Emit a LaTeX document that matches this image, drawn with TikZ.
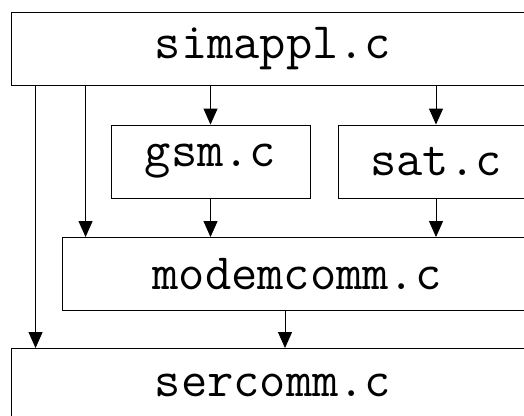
\documentclass[tikz,border=0pt]{standalone}
\usetikzlibrary{arrows.meta}
\begin{document}
\begin{tikzpicture}[x=1pt,y=-1pt,
	box/.style={draw,line width=.9pt,minimum height=73pt,inner sep=0pt,font=\fontsize{51}{60}\selectfont\ttfamily},
	arr/.style={-{Triangle[length=16pt,width=14pt]},line width=.9pt}]
		\useasboundingbox (0,0) rectangle (524,415);
		\clip (0,0) rectangle (524,415);
		%Cac khoi
		\node[box,minimum width=524pt] (simappl) at (273,49) {simappl.c};
		\node[box,minimum width=199pt] (gsm) at (210.5,161.5) {gsm.c};
		\node[box,minimum width=196pt] (sat) at (436,161.5) {sat.c};
		\node[box,minimum width=470pt] (modem) at (297,274) {modemcomm.c};
		\node[box,minimum width=524pt] (sercomm) at (273,385) {sercomm.c};
		%Cac mui ten
		\draw[arr] ([xshift=25pt]simappl.south west)--([xshift=25pt]sercomm.north west);
		\draw[arr] ([xshift=75pt]simappl.south west)--([xshift=24pt]modem.north west);
		\draw[arr] (simappl.south -| gsm.north)--(gsm.north);
		\draw[arr] (simappl.south -| sat.north)--(sat.north);
		\draw[arr] (gsm.south)--(modem.north -| gsm.south);
		\draw[arr] (sat.south)--(modem.north -| sat.south);
		\draw[arr] ([xshift=-12pt]modem.south)--([xshift=12pt]sercomm.north);
	\end{tikzpicture}
\end{document}
